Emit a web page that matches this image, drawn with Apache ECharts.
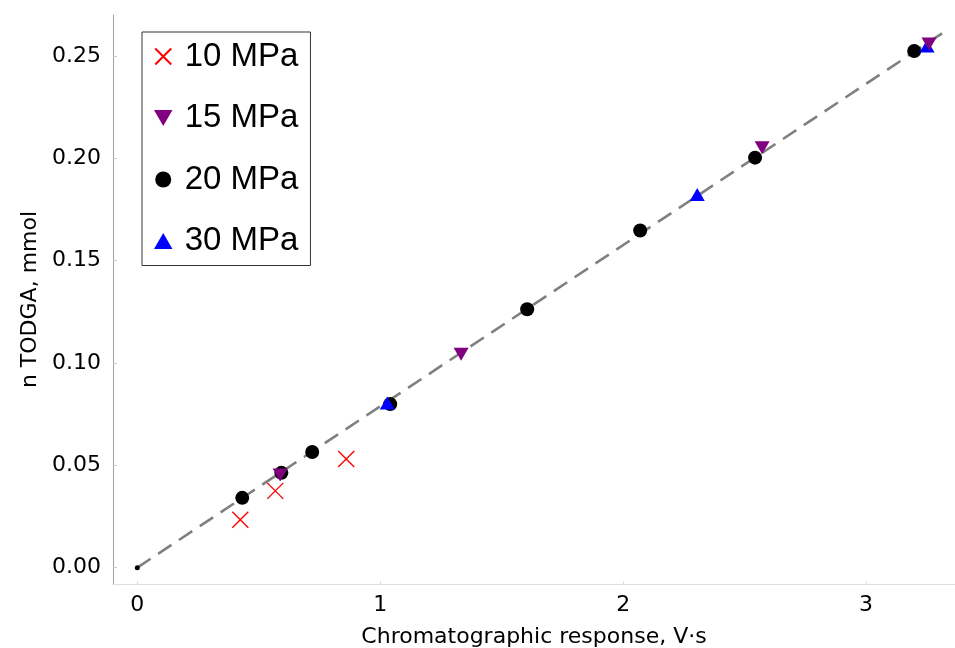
<!DOCTYPE html>
<html>
<head>
<meta charset="utf-8">
<script src="https://cdn.jsdelivr.net/npm/echarts@6/dist/echarts.min.js"></script>
<style>
html,body{margin:0;padding:0;background:#fff;}
#chart{width:955px;height:648px;}
</style>
</head>
<body>
<div id="chart"></div>
<script>
// Data
const xTicks = [0, 1, 2, 3];
const yTicks = [0, 0.05, 0.10, 0.15, 0.20, 0.25];

const x10 = [0.424, 0.568, 0.860];
const y10 = [0.0234, 0.0375, 0.0531];

const x15 = [0.588, 1.333, 2.572, 3.259];
const y15 = [0.0453, 0.1043, 0.2052, 0.2558];

const x20 = [0.432, 0.593, 0.720, 1.041, 1.605, 2.070, 2.543, 3.198];
const y20 = [0.0341, 0.0463, 0.0565, 0.0799, 0.1262, 0.1647, 0.2003, 0.2524];

const x30 = [1.029, 2.305, 3.251];
const y30 = [0.0804, 0.1823, 0.2549];

const fitX = [0, 3.32];
const fitY = [0, 0.2616];

const originX = [0];
const originY = [0];

function pairs(xs, ys) { return xs.map((v, i) => [v, ys[i]]); }

const chart = echarts.init(document.getElementById('chart'));
const axisFont = { fontFamily: 'DejaVu Sans', fontSize: 22, color: '#000' };
const downTri = 'path://M0,0L10,0L5,8.66Z';
const upTri = 'path://M5,0L10,8.66L0,8.66Z';
const cross = 'path://M0,0L10,10M10,0L0,10';

chart.setOption({
  animation: false,
  backgroundColor: '#fff',
  grid: { left: 113, right: 0, top: 15, bottom: 64, containLabel: false, outerBoundsMode: 'none' },
  xAxis: {
    type: 'value', min: -0.1, max: 3.366,
    name: 'Chromatographic response, V\u00b7s',
    nameLocation: 'middle', nameGap: 42,
    nameTextStyle: axisFont,
    axisLine: { show: true, onZero: false, lineStyle: { color: '#dddddd', width: 1 } },
    axisTick: { show: true, inside: true, length: 3, lineStyle: { color: '#dddddd' }, customValues: xTicks },
    axisLabel: Object.assign({ margin: 10, customValues: xTicks, formatter: v => String(v) }, axisFont),
    splitLine: { show: false }
  },
  yAxis: {
    type: 'value', min: -0.008, max: 0.27,
    name: 'n TODGA, mmol',
    nameLocation: 'middle', nameGap: 70,
    nameTextStyle: axisFont,
    axisLine: { show: true, onZero: false, lineStyle: { color: '#a0a0a0', width: 1 } },
    axisTick: { show: true, inside: true, length: 4, lineStyle: { color: '#cccccc' }, customValues: yTicks },
    axisLabel: Object.assign({ margin: 12, customValues: yTicks, formatter: v => v.toFixed(2) }, axisFont),
    splitLine: { show: false }
  },
  legend: {
    orient: 'vertical', left: 142, top: 32,
    data: ['10 MPa', '15 MPa', '20 MPa', '30 MPa'],
    itemWidth: 33, itemHeight: 16, itemGap: 28.5,
    padding: [8, 12, 8, 12],
    borderColor: '#333', borderWidth: 1, backgroundColor: '#fff',
    symbolKeepAspect: true,
    textStyle: { fontFamily: 'Liberation Sans', fontSize: 33, lineHeight: 32, color: '#000' },
    selectedMode: false
  },
  series: [
    {
      type: 'line', name: 'fit', data: pairs(fitX, fitY), showSymbol: false, symbol: 'none',
      lineStyle: { color: '#808080', width: 2.6, type: [16, 9] }, z: 1, silent: true
    },
    {
      type: 'scatter', name: 'origin', data: pairs(originX, originY), symbol: 'circle', symbolSize: 5,
      itemStyle: { color: '#000', opacity: 1 }, z: 2
    },
    {
      type: 'scatter', name: '20 MPa', data: pairs(x20, y20), symbol: 'circle', symbolSize: 14,
      itemStyle: { color: '#000', opacity: 1 }, z: 3
    },
    {
      type: 'scatter', name: '30 MPa', data: pairs(x30, y30), symbol: upTri, symbolSize: 15, symbolKeepAspect: true,
      itemStyle: { color: '#0000ff', opacity: 1 }, z: 3
    },
    {
      type: 'scatter', name: '15 MPa', data: pairs(x15, y15), symbol: downTri, symbolSize: 15, symbolKeepAspect: true,
      itemStyle: { color: '#800080', opacity: 1 }, z: 3
    },
    {
      type: 'scatter', name: '10 MPa', data: pairs(x10, y10), symbol: cross, symbolSize: 16, symbolKeepAspect: true,
      itemStyle: { color: 'rgba(0,0,0,0)', borderColor: '#ff0000', borderWidth: 1.4, opacity: 1 }, z: 3
    }
  ]
});
</script>
</body>
</html>
